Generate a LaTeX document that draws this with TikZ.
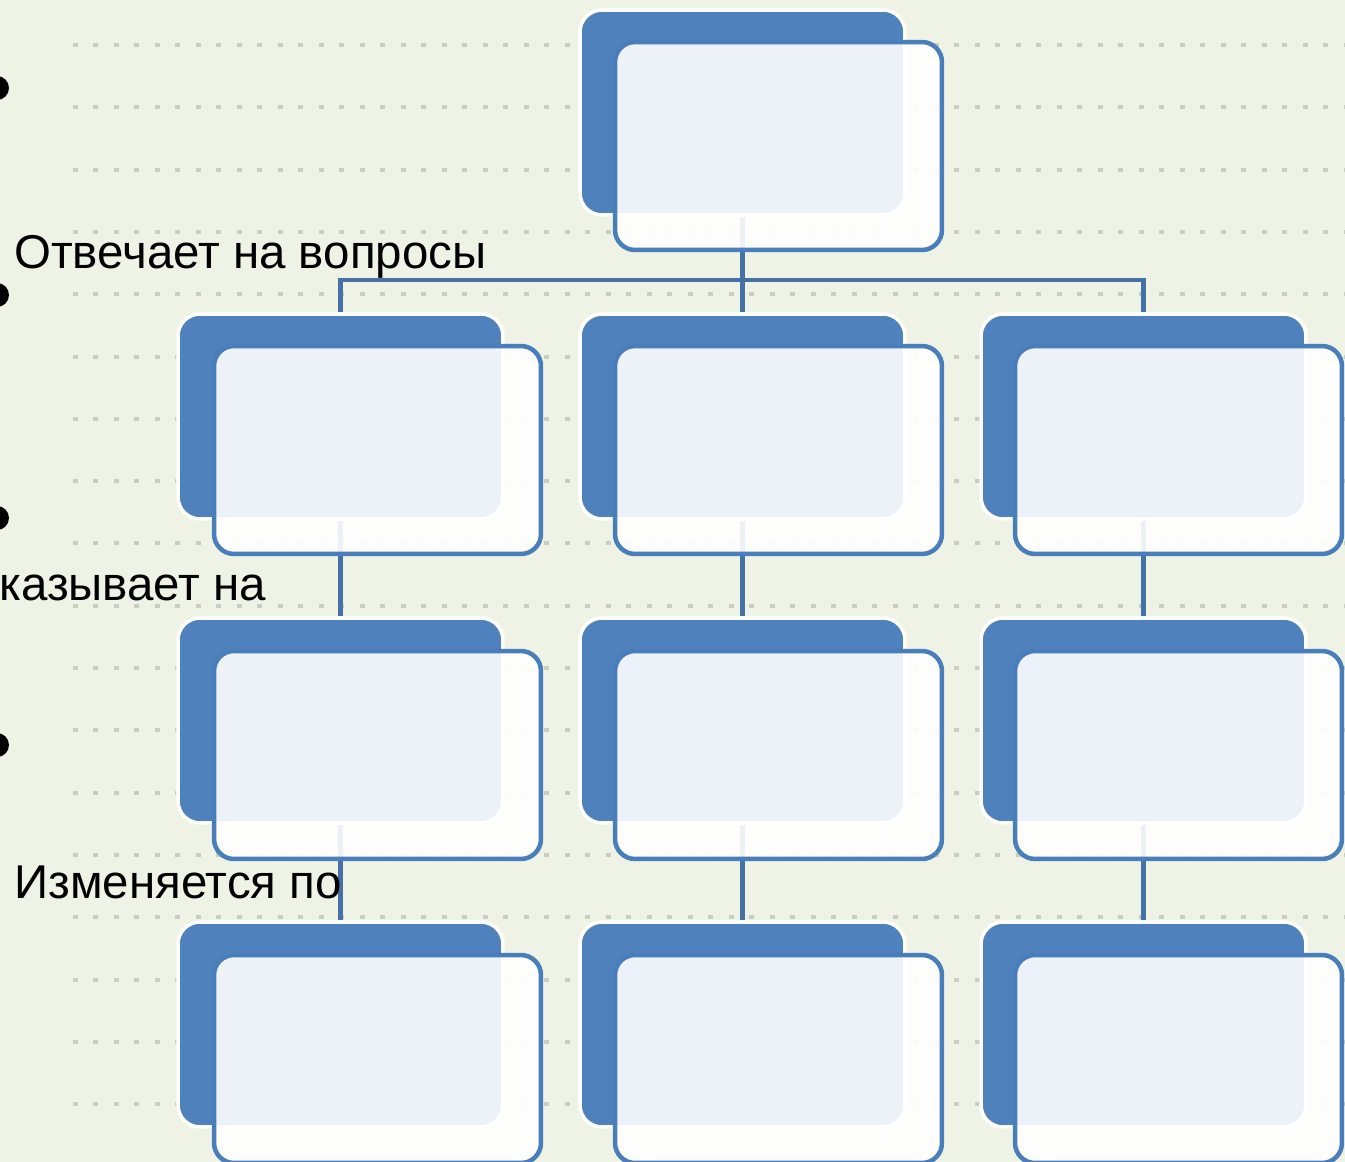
\documentclass[tikz,border=0pt]{standalone}
\usepackage{fontspec}
\setmainfont{Liberation Sans}
\usepackage{xcolor}
\usepackage{tikz}
\definecolor{bgpage}{HTML}{EFF3E6}
\definecolor{boxblue}{HTML}{4F81BD}
\definecolor{edgeblue}{HTML}{4A7EBB}
\definecolor{linkblue}{HTML}{4571A6}
\definecolor{dotgray}{HTML}{CACDC2}
\tikzset{
    backbox/.style={shape=rectangle, rounded corners=0.44cm, draw=white, line width=0.07cm,
        fill=boxblue, minimum width=6.5cm, minimum height=4.1cm, inner sep=0pt},
    frontbox/.style={shape=rectangle, rounded corners=0.4cm, draw=edgeblue, line width=0.09cm,
        fill=white, fill opacity=0.9, minimum width=6.54cm, minimum height=4.16cm, inner sep=0pt},
    link/.style={draw=linkblue, line width=0.09cm},
    dotrow/.style={draw=dotgray, line width=0.08cm, dash pattern=on 0.1cm off 0.31cm},
    bulletdot/.style={fill=black},
    caption/.style={anchor=base west, inner sep=0pt, font=\fontsize{27}{32}\selectfont}}

\begin{document}
\begin{tikzpicture}[x=0.02cm, y=-0.02cm]

            \clip (0,0) rectangle (1345,1162);
            \fill[bgpage] (0,0) rectangle (1345,1162);

            \foreach \y in {45,107.3,169.6,231.9,294.2,356.5,418.8,481.1,543.4,605.7,668,730.3,792.6,854.9,917.2,979.5,1041.8,1104.1}
                \draw[dotrow] (73,\y) -- (1345,\y);

            \fill[bulletdot] (-3,88) circle (12);
            \fill[bulletdot] (-3,295) circle (12);
            \fill[bulletdot] (-3,518) circle (12);
            \fill[bulletdot] (-3,745) circle (12);

            \node[backbox] (A) at (742.5,112.5) {};
            \node[backbox] (B1) at (340.5,416.5) {};
            \node[backbox] (B2) at (742.5,416.5) {};
            \node[backbox] (B3) at (1143.5,416.5) {};
            \node[backbox] (C1) at (340.5,720.5) {};
            \node[backbox] (C2) at (742.5,720.5) {};
            \node[backbox] (C3) at (1143.5,720.5) {};
            \node[backbox] (D1) at (340.5,1024.5) {};
            \node[backbox] (D2) at (742.5,1024.5) {};
            \node[backbox] (D3) at (1143.5,1024.5) {};

            \coordinate (H) at (742.5,280);
            \draw[link] (A.south) -- (B2.north);
            \draw[link] (B1.north) |- (H) -| (B3.north);
            \draw[link] (B1.south) -- (C1.north);
            \draw[link] (B2.south) -- (C2.north);
            \draw[link] (B3.south) -- (C3.north);
            \draw[link] (C1.south) -- (D1.north);
            \draw[link] (C2.south) -- (D2.north);
            \draw[link] (C3.south) -- (D3.north);

            \node[frontbox] (Af) at (778.5,146) {};
            \node[frontbox] (B1f) at (377.5,450) {};
            \node[frontbox] (B2f) at (778.5,450) {};
            \node[frontbox] (B3f) at (1178.5,450) {};
            \node[frontbox] (C1f) at (377.5,755) {};
            \node[frontbox] (C2f) at (778.5,755) {};
            \node[frontbox] (C3f) at (1178.5,755) {};
            \node[frontbox] (D1f) at (377.5,1059) {};
            \node[frontbox] (D2f) at (778.5,1059) {};
            \node[frontbox] (D3f) at (1178.5,1059) {};

            \node[caption] (Q) at (14,269) {Отвечает на вопросы};
            \node[caption] (P) at (-1,600) {казывает на};
            \node[caption] (V) at (14,898) {Изменяется по};

        \end{tikzpicture}
\end{document}
